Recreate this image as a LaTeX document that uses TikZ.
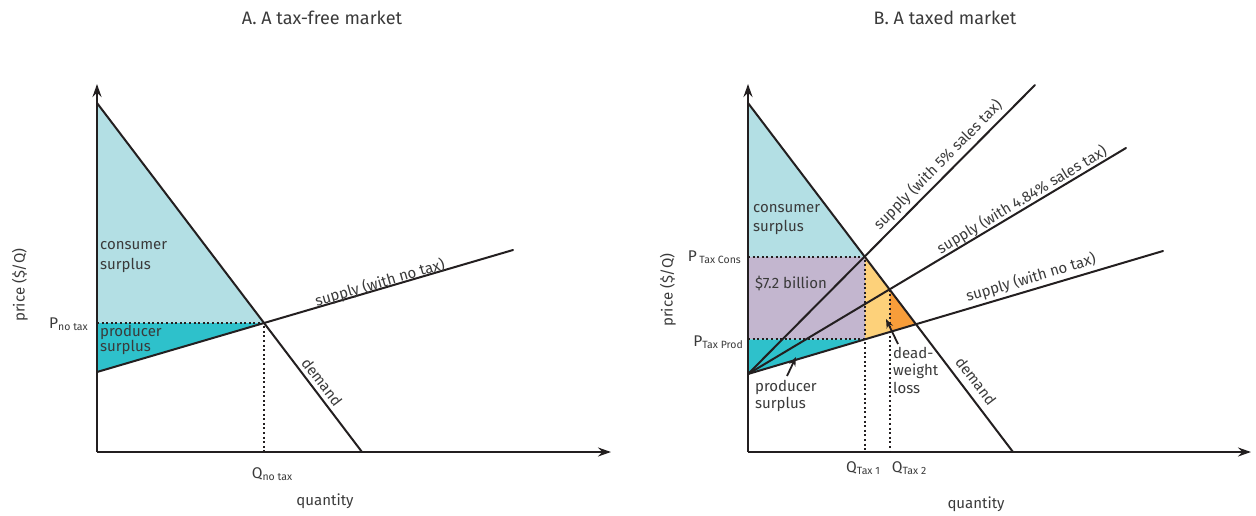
\documentclass[tikz,border=0pt]{standalone}
\usepackage{fontspec}
\setmainfont{Fira Sans}
\usetikzlibrary{arrows.meta}
\definecolor{ink}{HTML}{231F20}
\definecolor{txt}{HTML}{3A3A3A}
\definecolor{conscol}{HTML}{B3DFE4}
\definecolor{prodcol}{HTML}{2EC1CB}
\definecolor{taxcol}{HTML}{C3B6CF}
\definecolor{dwlight}{HTML}{FDD17A}
\definecolor{dwdark}{HTML}{F89D3A}
\begin{document}
\begin{tikzpicture}[x=1pt,y=-1pt,
  axisline/.style={line width=2.4pt, draw=ink, -{Stealth[length=13pt,width=9pt]}},
  curveline/.style={line width=2pt, draw=ink, line cap=round},
  guide/.style={line width=2pt, draw=ink, dash pattern=on 2pt off 2.6pt},
  pointer/.style={line width=1.8pt, draw=ink, -{Stealth[length=9pt,width=7pt]}},
  lbl/.style={text=txt, font=\fontsize{15}{18}\selectfont, inner sep=0pt},
  ttl/.style={text=txt, font=\fontsize{18}{21}\selectfont, inner sep=0pt},
  sub/.style={text=txt, font=\fontsize{15.5}{17}\selectfont, inner sep=0pt}]
\useasboundingbox (0,0) rectangle (1256,515);
\newcommand{\sbs}[1]{\raisebox{-0.25ex}{\fontsize{10.5}{12}\selectfont #1}}

% ---------- Panel A ----------
\coordinate (O1) at (97,452);
\coordinate (Y1) at (97,84);
\coordinate (X1) at (611,452);
\coordinate (D1a) at (97,103);
\coordinate (D1b) at (362,452);
\coordinate (S1a) at (97,372);
\coordinate (S1b) at (513,250);
\coordinate (E1) at (264,323);
\coordinate (P1) at (97,323);
\coordinate (Q1) at (264,452);

\fill[conscol] (D1a) -- (E1) -- (P1) -- cycle;
\fill[prodcol] (P1) -- (E1) -- (S1a) -- cycle;
\draw[guide] (P1) -- (E1) -- (Q1);
\draw[curveline] (D1a) -- (D1b);
\draw[curveline] (S1a) -- (S1b);
\draw[axisline] (O1) -- (Y1);
\draw[axisline] (O1) -- (X1);

\node[ttl] (tA) at (322,18) {A. A tax-free market};
\node[lbl, anchor=west, align=left, font=\fontsize{15}{20}\selectfont] (cs1) at (100,257) {consumer\\surplus};
\node[lbl, anchor=west, align=left, font=\fontsize{15}{15.5}\selectfont] (ps1) at (100,340) {producer\\surplus};
\node[sub, anchor=east] (pnt) at (88,324) {P\sbs{no tax}};
\node[sub] (qnt) at (272,474) {Q\sbs{no tax}};
\node[lbl] (qa) at (325,501) {quantity};
\node[lbl, rotate=90] (pa) at (20,285) {price (\$/Q)};
\node[lbl, rotate=16.3] (sa) at (380,283) {supply (with no tax)};
\node[lbl, rotate=-52.8] (da) at (322,382) {demand};

% ---------- Panel B ----------
\coordinate (O2) at (748,452);
\coordinate (Y2) at (748,84);
\coordinate (X2) at (1251,452);
\coordinate (D2a) at (748,103);
\coordinate (D2b) at (1013,452);
\coordinate (S2a) at (748,374);
\coordinate (S2n) at (1163,251);
\coordinate (S2m) at (1126,148);
\coordinate (S2f) at (1035,85);
\coordinate (A5) at (865,257);
\coordinate (A4) at (889.5,289.5);
\coordinate (A0) at (916,324);
\coordinate (B5) at (865,339.3);
\coordinate (B4) at (889.5,332.1);
\coordinate (PC) at (748,257);
\coordinate (PP) at (748,339.3);
\coordinate (Q5) at (865,452);
\coordinate (Q4) at (889.5,452);

\fill[conscol] (D2a) -- (A5) -- (PC) -- cycle;
\fill[taxcol] (PC) -- (A5) -- (B5) -- (PP) -- cycle;
\fill[prodcol] (PP) -- (B5) -- (S2a) -- cycle;
\fill[dwlight] (A5) -- (A4) -- (B4) -- (B5) -- cycle;
\fill[dwdark] (A4) -- (A0) -- (B4) -- cycle;
\draw[guide] (PC) -- (A5) -- (Q5);
\draw[guide] (PP) -- (B5);
\draw[guide] (A4) -- (Q4);
\draw[curveline] (D2a) -- (D2b);
\draw[curveline] (S2a) -- (S2n);
\draw[curveline] (S2a) -- (S2m);
\draw[curveline] (S2a) -- (S2f);
\draw[axisline] (O2) -- (Y2);
\draw[axisline] (O2) -- (X2);

\node[ttl] (tB) at (945,18) {B. A taxed market};
\node[lbl, anchor=west, align=left, font=\fontsize{15}{19}\selectfont] (cs2) at (753,220) {consumer\\surplus};
\node[lbl, anchor=west] (tax) at (755,283) {\$7.2 billion};
\node[lbl, anchor=north west, align=left, font=\fontsize{15}{17}\selectfont] (ps2) at (755,380) {producer\\surplus};
\node[lbl, anchor=north west, align=left, font=\fontsize{15}{17.5}\selectfont] (dwl) at (893,347) {dead-\\weight\\loss};
\node[sub, anchor=east] (ptc) at (741,257) {P\,\sbs{Tax Cons}};
\node[sub, anchor=east] (ptp) at (743,342) {P\sbs{Tax Prod}};
\node[sub] (qt1) at (863,468) {Q\sbs{Tax 1}};
\node[sub] (qt2) at (909,468) {Q\sbs{Tax 2}};
\node[lbl] (qb) at (976,504) {quantity};
\node[lbl, rotate=90] (pb) at (668,290) {price (\$/Q)};
\node[lbl, rotate=45.2] (s5) at (938,165) {supply (with 5\% sales tax)};
\node[lbl, rotate=30.9] (s4) at (1022,200) {supply (with 4.84\% sales tax)};
\node[lbl, rotate=16.5] (s0) at (1031,278) {supply (with no tax)};
\node[lbl, rotate=-52.8] (db) at (976,381) {demand};

\coordinate (pst) at (787,376);
\coordinate (psh) at (796,357);
\coordinate (dwt) at (898,344);
\coordinate (dwh) at (886,319);
\draw[pointer] (pst) -- (psh);
\draw[pointer] (dwt) -- (dwh);
\end{tikzpicture}
\end{document}
